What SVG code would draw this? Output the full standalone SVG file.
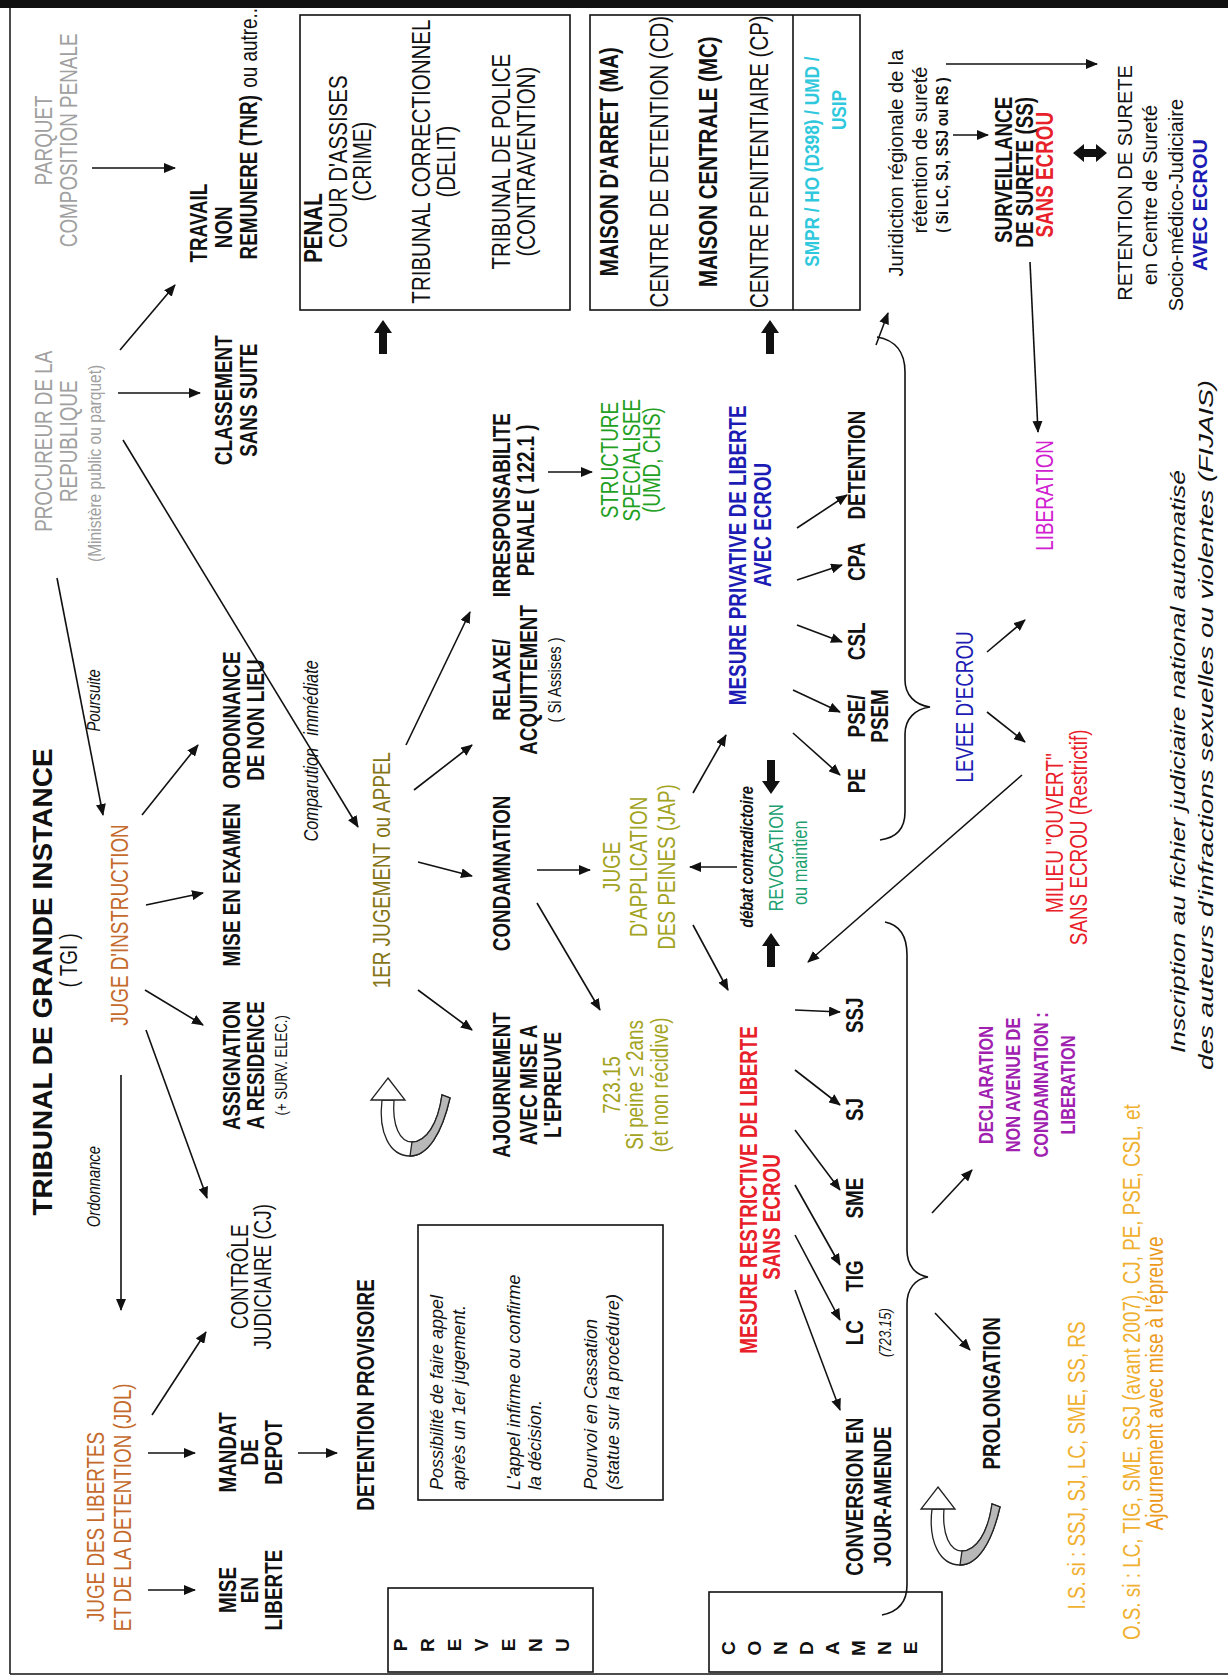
<svg xmlns="http://www.w3.org/2000/svg" width="1228" height="1677" viewBox="0 0 1228 1677">
<style>
.t{font-family:"Liberation Sans",Arial,sans-serif;font-size:23px;text-anchor:middle;fill:#111}
.b{font-weight:bold}
.i{font-style:italic}
.s16{font-size:16px}
.s18{font-size:18px}
.s20{font-size:20px}
.s25{font-size:25px}
.st{text-anchor:start}
.en{text-anchor:end}
.gr{fill:#a0a0a0}
.or{fill:#c46a2c}
.ol{fill:#857415}
.ye{fill:#a3a322}
.gn{fill:#22a022}
.bl{fill:#1c1cb4}
.rd{fill:#e8202a}
.te{fill:#20a070}
.mg{fill:#d020d0}
.pu{fill:#a020b0}
.cy{fill:#30c8dc}
.og{fill:#f0b030}
.og2{fill:#eb9a1c}
.ln{stroke:#111;stroke-width:1.6;fill:none;marker-end:url(#ah)}
.box{fill:none;stroke:#111;stroke-width:1.6}
</style>
<defs>
<marker id="ah" markerWidth="12" markerHeight="10" refX="11" refY="5" orient="auto" markerUnits="userSpaceOnUse"><path d="M0,0 L12,5 L0,10 z" fill="#111"/></marker>
<path id="thick" d="M0,0 L9,13 L4,13 L4,34 L-4,34 L-4,13 L-9,13 Z" fill="#111"/>
<g id="uturn">
<path d="M12,22 C8,55 20,78 40,78 C58,78 72,55 80,20 L72,17 C68,46 56,64 42,64 C30,64 22,48 24,22 Z" fill="#fff" stroke="#222" stroke-width="1.3"/>
<path d="M40,78 C58,78 72,55 80,20 L72,17 C68,46 56,64 42,64 Z" fill="#b8b8b8" stroke="#222" stroke-width="1.3"/>
<path d="M18,0 L35,22 L1,22 Z" fill="#fff" stroke="#222" stroke-width="1.3"/>
</g>
</defs>
<rect width="1228" height="1677" fill="#fff"/>
<g id="frame">
<rect x="0" y="0" width="1228" height="8" fill="#111"/>
<line x1="10" y1="8" x2="10" y2="1674" stroke="#111" stroke-width="1.5"/>
<line x1="10" y1="1674" x2="1228" y2="1674" stroke="#111" stroke-width="1.5"/>
</g>
<g id="boxes">
<rect class="box" x="300" y="15" width="270" height="295"/>
<rect class="box" x="590" y="15" width="270" height="295"/>
<line x1="793" y1="15" x2="793" y2="310" stroke="#111" stroke-width="1.6"/>
<rect class="box" x="418" y="1225" width="245" height="275"/>
<rect class="box" x="388" y="1588" width="205" height="84"/>
<rect class="box" x="709" y="1592" width="233" height="80"/>
</g>
<g id="connectors">
<line class="ln" x1="92" y1="168" x2="175" y2="168"/>
<line class="ln" x1="120" y1="350" x2="175" y2="285"/>
<line class="ln" x1="118" y1="393" x2="200" y2="393"/>
<line class="ln" x1="123" y1="440" x2="358" y2="827"/>
<line class="ln" x1="57" y1="578" x2="103" y2="815"/>
<line class="ln" x1="142" y1="815" x2="198" y2="745"/>
<line class="ln" x1="146" y1="905" x2="203" y2="893"/>
<line class="ln" x1="145" y1="990" x2="203" y2="1025"/>
<line class="ln" x1="146" y1="1030" x2="207" y2="1198"/>
<line class="ln" x1="121" y1="1075" x2="121" y2="1310"/>
<line class="ln" x1="152" y1="1415" x2="206" y2="1332"/>
<line class="ln" x1="148" y1="1453" x2="195" y2="1453"/>
<line class="ln" x1="148" y1="1590" x2="195" y2="1590"/>
<line class="ln" x1="298" y1="1453" x2="337" y2="1453"/>
<line class="ln" x1="406" y1="745" x2="470" y2="612"/>
<line class="ln" x1="414" y1="790" x2="472" y2="745"/>
<line class="ln" x1="418" y1="862" x2="472" y2="876"/>
<line class="ln" x1="418" y1="990" x2="472" y2="1030"/>
<line class="ln" x1="548" y1="472" x2="592" y2="472"/>
<line class="ln" x1="537" y1="870" x2="590" y2="870"/>
<line class="ln" x1="537" y1="903" x2="600" y2="1010"/>
<line class="ln" x1="693" y1="793" x2="726" y2="735"/>
<line class="ln" x1="693" y1="925" x2="728" y2="990"/>
<line class="ln" x1="737" y1="867" x2="690" y2="867"/>
<line class="ln" x1="797" y1="528" x2="847" y2="495"/>
<line class="ln" x1="797" y1="580" x2="842" y2="565"/>
<line class="ln" x1="797" y1="625" x2="842" y2="642"/>
<line class="ln" x1="793" y1="690" x2="840" y2="712"/>
<line class="ln" x1="793" y1="733" x2="840" y2="775"/>
<line class="ln" x1="795" y1="1010" x2="840" y2="1012"/>
<line class="ln" x1="795" y1="1070" x2="840" y2="1105"/>
<line class="ln" x1="795" y1="1130" x2="840" y2="1190"/>
<line class="ln" x1="795" y1="1185" x2="840" y2="1265"/>
<line class="ln" x1="795" y1="1235" x2="840" y2="1320"/>
<line class="ln" x1="795" y1="1290" x2="840" y2="1410"/>
<line class="ln" x1="876" y1="345" x2="888" y2="313"/>
<line class="ln" x1="946" y1="64" x2="1097" y2="64"/>
<line class="ln" x1="953" y1="135" x2="988" y2="135"/>
<line class="ln" x1="1030" y1="262" x2="1038" y2="432"/>
<line class="ln" x1="987" y1="652" x2="1025" y2="620"/>
<line class="ln" x1="987" y1="712" x2="1025" y2="742"/>
<line class="ln" x1="1022" y1="775" x2="808" y2="962"/>
<line class="ln" x1="932" y1="1213" x2="972" y2="1170"/>
<line class="ln" x1="935" y1="1313" x2="970" y2="1350"/>
<use href="#thick" transform="translate(383,320)"/>
<use href="#thick" transform="translate(770,320)"/>
<use href="#thick" transform="translate(771,794) rotate(180)"/>
<use href="#thick" transform="translate(771,933)"/>
<path d="M1073,153 L1084,144 L1084,149 L1096,149 L1096,144 L1107,153 L1096,162 L1096,157 L1084,157 L1084,162 Z" fill="#111"/>
<path d="M877,337 C895,340 905,352 905,372 L905,680 C905,695 915,705 930,707 C915,709 905,719 905,734 L905,812 C905,830 895,838 880,840" fill="none" stroke="#111" stroke-width="1.6"/>
<path d="M885,922 C900,925 907,937 907,955 L907,1250 C907,1265 915,1275 928,1277 C915,1279 907,1289 907,1304 L907,1585 C907,1603 897,1612 882,1615" fill="none" stroke="#111" stroke-width="1.6"/>
<use href="#uturn" transform="translate(370,1078)"/>
<use href="#uturn" transform="translate(920,1487)"/>
</g>
<g id="nodes" transform="translate(0,1677) rotate(-90)">
<g id="tgi-title"><text class="t b" style="font-size:28px" x="695" y="52">TRIBUNAL DE GRANDE INSTANCE</text></g>
<g id="juridiction-w"><text class="t s20" x="1514" y="903">Juridiction régionale de la</text><text class="t s20" x="1527" y="927">rétention de sureté</text></g>
<g id="retention"><text class="t s20" x="1494" y="1132">RETENTION DE SURETE</text><text class="t s20" x="1482" y="1157">en Centre de Sureté</text><text class="t s20" x="1472" y="1183">Socio-médico-Judiciaire</text><text class="t s20 b bl" x="1472" y="1207">AVEC ECROU</text></g>
<g id="fijais"><text class="t i st" style="font-size:21px" x="624" y="1185" textLength="583" lengthAdjust="spacingAndGlyphs">Inscription au fichier judiciaire national automatisé</text><text class="t i st" style="font-size:21px" x="607" y="1213" textLength="690" lengthAdjust="spacingAndGlyphs">des auteurs d'infractions sexuelles ou violentes (FIJAIS)</text></g>
<g id="note"><text class="t i s18 st" x="187" y="443">Possibilité de faire appel</text><text class="t i s18 st" x="187" y="465">après un 1er jugement.</text><text class="t i s18 st" x="187" y="520">L'appel infirme ou confirme</text><text class="t i s18 st" x="187" y="541">la décision.</text><text class="t i s18 st" x="187" y="597">Pourvoi en Cassation</text><text class="t i s18 st" x="187" y="619">(statue sur la procédure)</text></g>
<g id="prevenu"><text class="t b" style="font-size:19px" x="32" y="407">P</text><text class="t b" style="font-size:19px" x="32" y="434">R</text><text class="t b" style="font-size:19px" x="32" y="461">E</text><text class="t b" style="font-size:19px" x="32" y="488">V</text><text class="t b" style="font-size:19px" x="32" y="515">E</text><text class="t b" style="font-size:19px" x="32" y="542">N</text><text class="t b" style="font-size:19px" x="32" y="569">U</text></g>
<g id="condamne"><text class="t b" style="font-size:19px" x="29" y="735">C</text><text class="t b" style="font-size:19px" x="29" y="761">O</text><text class="t b" style="font-size:19px" x="29" y="787">N</text><text class="t b" style="font-size:19px" x="29" y="813">D</text><text class="t b" style="font-size:19px" x="29" y="839">A</text><text class="t b" style="font-size:19px" x="29" y="865">M</text><text class="t b" style="font-size:19px" x="29" y="891">N</text><text class="t b" style="font-size:19px" x="29" y="917">E</text></g>
<g id="narrow" transform="scale(0.82,1)">
<g id="parquet"><text class="t gr" x="1874" y="52">PARQUET</text><text class="t gr" x="1874" y="77">COMPOSITION PENALE</text></g>
<g id="procureur"><text class="t gr" x="1507" y="52">PROCUREUR DE LA</text><text class="t gr" x="1507" y="77">REPUBLIQUE</text><text class="t gr" style="font-size:19px" x="1480" y="101">(Ministère public ou parquet)</text></g>
<g id="tnr"><text class="t b" x="1773" y="207">TRAVAIL</text><text class="t b" x="1768" y="232">NON</text><text class="t b" x="1829" y="257">REMUNERE (TNR)</text><text class="t" x="1990" y="257">ou autre...</text></g>
<g id="classement"><text class="t b" x="1557" y="232">CLASSEMENT</text><text class="t b" x="1557" y="257">SANS SUITE</text></g>
<g id="tgi"><text class="t" x="874" y="77">( TGI )</text></g>
<g id="labels"><text class="t i s18" x="1191" y="100">Poursuite</text><text class="t i s18" x="598" y="100">Ordonnance</text><text class="t i s20" x="1076" y="318">Comparution</text><text class="t i s20" x="1194" y="318">immédiate</text></g>
<g id="juge-instruction"><text class="t or" x="917" y="128">JUGE D'INSTRUCTION</text></g>
<g id="jdl"><text class="t or" x="183" y="104">JUGE DES LIBERTES</text><text class="t or" x="207" y="131">ET DE LA DETENTION (JDL)</text></g>
<g id="non-lieu"><text class="t b" x="1167" y="240">ORDONNANCE</text><text class="t b" x="1167" y="264">DE NON LIEU</text></g>
<g id="mise-en-examen"><text class="t b" x="966" y="240">MISE EN EXAMEN</text></g>
<g id="assignation"><text class="t b" x="746" y="240">ASSIGNATION</text><text class="t b" x="746" y="264">A RESIDENCE</text><text class="t s16" x="746" y="287">(+ SURV. ELEC.)</text></g>
<g id="controle"><text class="t" x="488" y="248">CONTRÔLE</text><text class="t" x="488" y="271">JUDICIAIRE (CJ)</text></g>
<g id="mise-en-liberte"><text class="t b" x="106" y="236">MISE</text><text class="t b" x="106" y="258">EN</text><text class="t b" x="106" y="282">LIBERTE</text></g>
<g id="mandat"><text class="t b" x="274" y="236">MANDAT</text><text class="t b" x="274" y="258">DE</text><text class="t b" x="274" y="282">DEPOT</text></g>
<g id="detention-provisoire"><text class="t b" x="344" y="374">DETENTION PROVISOIRE</text></g>
<g id="penal"><text class="t b s25" x="1767" y="322">PENAL</text><text class="t s25" x="1848" y="347">COUR D'ASSISES</text><text class="t s25" x="1848" y="371">(CRIME)</text><text class="t s25" x="1848" y="430">TRIBUNAL CORRECTIONNEL</text><text class="t s25" x="1848" y="455">(DELIT)</text><text class="t s25" x="1848" y="510">TRIBUNAL DE POLICE</text><text class="t s25" x="1848" y="535">(CONTRAVENTION)</text></g>
<g id="etablissements"><text class="t b s25" x="1848" y="618">MAISON D'ARRET (MA)</text><text class="t s25" x="1848" y="668">CENTRE DE DETENTION (CD)</text><text class="t b s25" x="1848" y="717">MAISON CENTRALE (MC)</text><text class="t s25" x="1848" y="768">CENTRE PENITENTIAIRE (CP)</text><text class="t cy b" style="font-size:21px" x="1848" y="819">SMPR / HO (D398) / UMD /</text><text class="t cy b" style="font-size:21px" x="1911" y="846">USIP</text></g>
<g id="juridiction"><text class="t b" style="font-size:17px" x="1856" y="948">( Si LC, SJ, SSJ ou RS )</text></g>
<g id="surveillance"><text class="t b" x="1838" y="1012">SURVEILLANCE</text><text class="t b" x="1835" y="1033">DE SURETE (SS)</text><text class="t b rd" x="1832" y="1053">SANS ECROU</text></g>
<g id="jugement"><text class="t ol" x="984" y="390">1ER JUGEMENT ou APPEL</text></g>
<g id="irresponsabilite"><text class="t b" x="1429" y="510">IRRESPONSABILITE</text><text class="t b" x="1435" y="534">PENALE ( 122.1 )</text></g>
<g id="relaxe"><text class="t b" x="1216" y="510">RELAXE/</text><text class="t b" x="1216" y="537">ACQUITTEMENT</text><text class="t s18" x="1216" y="561">( Si Assises )</text></g>
<g id="condamnation"><text class="t b" x="980" y="510">CONDAMNATION</text></g>
<g id="ajournement"><text class="t b" x="722" y="510">AJOURNEMENT</text><text class="t b" x="722" y="537">AVEC MISE A</text><text class="t b" x="722" y="561">L'EPREUVE</text></g>
<g id="structure"><text class="t gn" x="1484" y="618">STRUCTURE</text><text class="t gn" x="1484" y="640">SPECIALISEE</text><text class="t gn" x="1484" y="660">(UMD, CHS)</text></g>
<g id="art72315"><text class="t ye" x="722" y="620">723.15</text><text class="t ye" x="722" y="643">Si peine ≤ 2ans</text><text class="t ye" x="722" y="668">(et non récidive)</text></g>
<g id="jap"><text class="t ye" x="988" y="620">JUGE</text><text class="t ye" x="988" y="647">D'APPLICATION</text><text class="t ye" x="988" y="675">DES PEINES (JAP)</text></g>
<g id="mesure-privative"><text class="t b bl" x="1368" y="746">MESURE PRIVATIVE DE LIBERTE</text><text class="t b bl" x="1405" y="771">AVEC ECROU</text></g>
<g id="revocation"><text class="t b i s18" x="1000" y="753">débat contradictoire</text><text class="t te s20" x="999" y="783">REVOCATION</text><text class="t te s20" x="993" y="807">ou maintien</text></g>
<g id="mesure-restrictive"><text class="t b rd" x="594" y="757">MESURE RESTRICTIVE DE LIBERTE</text><text class="t b rd" x="561" y="780">SANS ECROU</text></g>
<g id="pe"><text class="t b" x="1093" y="865">PE</text></g>
<g id="pse"><text class="t b" x="1172" y="865">PSE/</text><text class="t b" x="1172" y="888">PSEM</text></g>
<g id="csl"><text class="t b" x="1263" y="865">CSL</text></g>
<g id="cpa"><text class="t b" x="1360" y="865">CPA</text></g>
<g id="detention"><text class="t b" x="1478" y="865">DETENTION</text></g>
<g id="lc"><text class="t b" x="420" y="863">LC</text><text class="t i s16" x="420" y="891">(723.15)</text></g>
<g id="tig"><text class="t b" x="489" y="863">TIG</text></g>
<g id="sme"><text class="t b" x="584" y="863">SME</text></g>
<g id="sj"><text class="t b" x="692" y="863">SJ</text></g>
<g id="ssj"><text class="t b" x="807" y="863">SSJ</text></g>
<g id="conversion"><text class="t b" x="220" y="863">CONVERSION EN</text><text class="t b" x="220" y="891">JOUR-AMENDE</text></g>
<g id="levee"><text class="t bl" x="1183" y="973">LEVEE D'ECROU</text></g>
<g id="declaration"><text class="t b pu s20" x="722" y="993">DECLARATION</text><text class="t b pu s20" x="722" y="1020">NON AVENUE DE</text><text class="t b pu s20" x="722" y="1048">CONDAMNATION :</text><text class="t b pu s20" x="722" y="1075">LIBERATION</text></g>
<g id="prolongation"><text class="t b" x="346" y="1000">PROLONGATION</text></g>
<g id="liberation"><text class="t mg" x="1441" y="1053">LIBERATION</text></g>
<g id="milieu-ouvert"><text class="t rd" x="1029" y="1063">MILIEU "OUVERT"</text><text class="t rd" x="1024" y="1087">SANS ECROU (Restrictif)</text></g>
<g id="is-os"><text class="t og" x="258" y="1085">I.S. si : SSJ, SJ, LC, SME, SS, RS</text><text class="t og st" x="45" y="1140">O.S. si : LC, TIG, SME, SSJ (avant 2007), CJ, PE, PSE, CSL, et</text><text class="t og2" x="358" y="1163">Ajournement avec mise à l'épreuve</text></g>
</g>
</g>
</svg>
